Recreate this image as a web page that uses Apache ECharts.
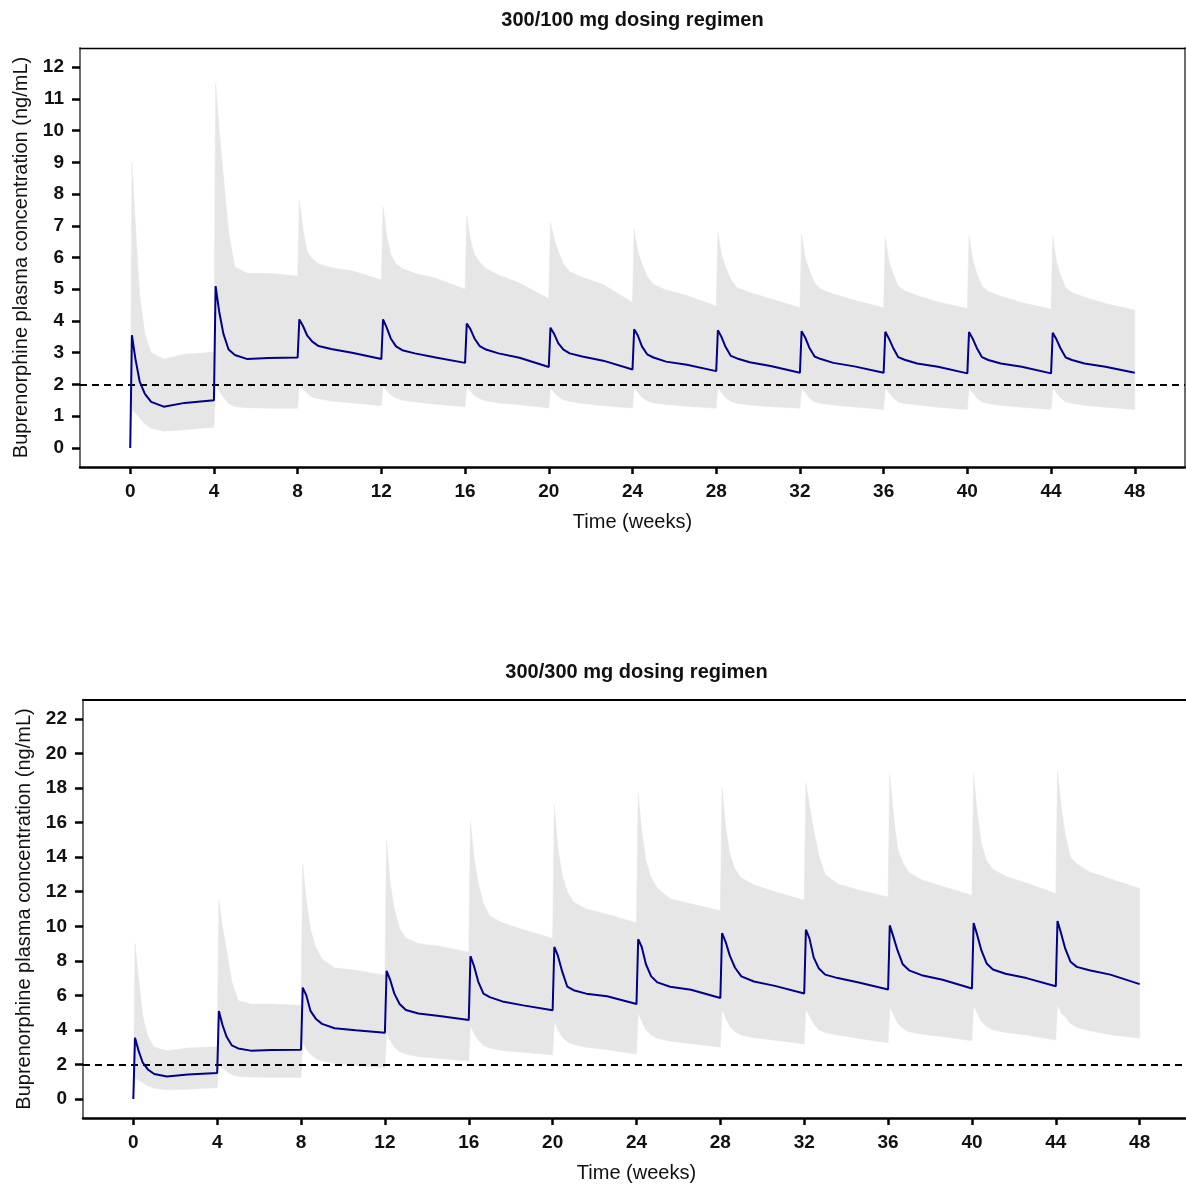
<!DOCTYPE html>
<html>
<head>
<meta charset="utf-8">
<script src="https://cdn.jsdelivr.net/npm/echarts@6/dist/echarts.min.js"></script>
<style>
  html, body { margin: 0; padding: 0; background: #fff; }
  #chart { width: 1186px; height: 1187px; }
</style>
</head>
<body>
<div id="chart"></div>
<script>
// time points (weeks): trough at each dose, then the post-dose decay
const weeks = [
  0, 0.08, 0.25, 0.45, 0.7, 1, 1.6, 2.6,
  4, 4.08, 4.25, 4.45, 4.7, 5, 5.6, 6.6,
  8, 8.08, 8.25, 8.45, 8.7, 9, 9.6, 10.6,
  12, 12.08, 12.25, 12.45, 12.7, 13, 13.6, 14.6,
  16, 16.08, 16.25, 16.45, 16.7, 17, 17.6, 18.6,
  20, 20.08, 20.25, 20.45, 20.7, 21, 21.6, 22.6,
  24, 24.08, 24.25, 24.45, 24.7, 25, 25.6, 26.6,
  28, 28.08, 28.25, 28.45, 28.7, 29, 29.6, 30.6,
  32, 32.08, 32.25, 32.45, 32.7, 33, 33.6, 34.6,
  36, 36.08, 36.25, 36.45, 36.7, 37, 37.6, 38.6,
  40, 40.08, 40.25, 40.45, 40.7, 41, 41.6, 42.6,
  44, 44.08, 44.25, 44.45, 44.7, 45, 45.6, 46.6,
  48
]

// 300/100 mg regimen
const median100 = [
  0, 3.55, 2.8, 2.1, 1.7, 1.45, 1.3, 1.42,
  1.5, 5.1, 4.3, 3.6, 3.1, 2.93, 2.8, 2.83,
  2.85, 4.05, 3.85, 3.55, 3.35, 3.21, 3.12, 3.0,
  2.8, 4.05, 3.8, 3.45, 3.2, 3.08, 2.98, 2.85,
  2.68, 3.92, 3.75, 3.45, 3.21, 3.1, 2.98, 2.84,
  2.55, 3.79, 3.6, 3.3, 3.1, 2.98, 2.88, 2.75,
  2.47, 3.74, 3.55, 3.2, 2.95, 2.85, 2.72, 2.62,
  2.42, 3.71, 3.5, 3.18, 2.9, 2.82, 2.7, 2.58,
  2.37, 3.68, 3.48, 3.16, 2.88, 2.8, 2.68, 2.57,
  2.37, 3.66, 3.45, 3.16, 2.86, 2.78, 2.66, 2.56,
  2.35, 3.65, 3.45, 3.15, 2.86, 2.77, 2.66, 2.56,
  2.35, 3.63, 3.43, 3.14, 2.85, 2.77, 2.66, 2.56,
  2.37
]
const p5_100 = [
  0, 1.2, 1.1, 0.95, 0.75, 0.62, 0.53, 0.57,
  0.65, 2.0, 1.8, 1.6, 1.4, 1.3, 1.27, 1.25,
  1.25, 1.95, 1.85, 1.72, 1.6, 1.55, 1.48, 1.42,
  1.33, 1.95, 1.82, 1.68, 1.57, 1.5, 1.45, 1.38,
  1.3, 1.95, 1.8, 1.65, 1.55, 1.48, 1.42, 1.36,
  1.26, 1.9, 1.75, 1.62, 1.52, 1.46, 1.4, 1.33,
  1.26, 1.9, 1.75, 1.6, 1.48, 1.42, 1.37, 1.31,
  1.25, 1.9, 1.75, 1.58, 1.46, 1.4, 1.35, 1.3,
  1.25, 1.9, 1.75, 1.58, 1.45, 1.4, 1.35, 1.29,
  1.21, 1.9, 1.75, 1.58, 1.45, 1.4, 1.35, 1.28,
  1.21, 1.9, 1.75, 1.58, 1.45, 1.4, 1.34, 1.28,
  1.21, 1.9, 1.75, 1.58, 1.45, 1.4, 1.34, 1.28,
  1.21
]
const p95_100 = [
  0, 9.0, 7.0, 4.8, 3.6, 3.0, 2.8, 2.95,
  3.02, 11.5, 10.0, 8.6, 6.8, 5.7, 5.5, 5.5,
  5.42, 7.8, 6.9, 6.2, 5.95, 5.8, 5.68, 5.58,
  5.3, 7.6, 6.7, 6.1, 5.8, 5.65, 5.5, 5.35,
  5.0, 7.3, 6.6, 6.1, 5.85, 5.65, 5.45, 5.2,
  4.7, 7.1, 6.6, 6.2, 5.8, 5.55, 5.38, 5.15,
  4.58, 6.9, 6.2, 5.8, 5.4, 5.15, 4.98, 4.8,
  4.47, 6.78, 6.1, 5.7, 5.3, 5.05, 4.9, 4.7,
  4.42, 6.74, 6.0, 5.6, 5.2, 5.0, 4.85, 4.65,
  4.42, 6.65, 5.9, 5.5, 5.1, 4.95, 4.8, 4.6,
  4.39, 6.7, 5.95, 5.5, 5.1, 4.93, 4.78, 4.58,
  4.37, 6.65, 5.9, 5.45, 5.05, 4.9, 4.75, 4.55,
  4.34
]

// 300/300 mg regimen
const median300 = [
  0, 3.55, 2.8, 2.1, 1.7, 1.45, 1.3, 1.42,
  1.5, 5.1, 4.3, 3.6, 3.1, 2.93, 2.8, 2.83,
  2.85, 6.45, 6.0, 5.1, 4.65, 4.35, 4.1, 3.98,
  3.83, 7.42, 6.9, 6.1, 5.5, 5.15, 4.95, 4.8,
  4.57, 8.27, 7.7, 6.8, 6.1, 5.9, 5.65, 5.42,
  5.14, 8.8, 8.3, 7.4, 6.5, 6.3, 6.1, 5.95,
  5.5, 9.25, 8.8, 7.8, 7.1, 6.75, 6.5, 6.32,
  5.85, 9.6, 9.1, 8.3, 7.6, 7.1, 6.8, 6.55,
  6.11, 9.8, 9.3, 8.2, 7.55, 7.2, 7.0, 6.75,
  6.34, 10.05, 9.4, 8.6, 7.8, 7.45, 7.17, 6.9,
  6.4, 10.19, 9.5, 8.6, 7.85, 7.5, 7.25, 7.0,
  6.53, 10.3, 9.6, 8.7, 7.95, 7.65, 7.45, 7.2,
  6.65
]
const p5_300 = [
  0, 1.2, 1.1, 0.95, 0.75, 0.62, 0.53, 0.57,
  0.65, 2.0, 1.8, 1.6, 1.4, 1.3, 1.27, 1.25,
  1.25, 3.3, 2.9, 2.6, 2.35, 2.2, 2.05, 1.95,
  1.8, 3.8, 3.4, 3.0, 2.75, 2.6, 2.45, 2.35,
  2.2, 4.2, 3.8, 3.4, 3.1, 2.95, 2.8, 2.7,
  2.55, 4.5, 4.0, 3.6, 3.3, 3.15, 3.0, 2.85,
  2.6, 5.0, 4.5, 4.0, 3.7, 3.5, 3.35, 3.2,
  3.0, 5.2, 4.7, 4.2, 3.9, 3.7, 3.55, 3.4,
  3.18, 5.2, 4.8, 4.35, 4.0, 3.85, 3.7, 3.5,
  3.26, 5.3, 4.9, 4.4, 4.1, 3.9, 3.75, 3.6,
  3.37, 5.4, 5.0, 4.5, 4.2, 4.0, 3.85, 3.7,
  3.41, 5.45, 5.0, 4.75, 4.37, 4.15, 3.95, 3.72,
  3.51
]
const p95_300 = [
  0, 9.0, 7.0, 4.8, 3.6, 3.0, 2.8, 2.95,
  3.02, 11.5, 10.0, 8.6, 6.8, 5.7, 5.5, 5.5,
  5.42, 13.6, 11.5, 9.8, 8.8, 8.1, 7.6, 7.45,
  7.17, 15.0, 12.5, 11.0, 9.9, 9.3, 9.0, 8.85,
  8.5, 16.1, 14.0, 12.5, 11.3, 10.6, 10.2, 9.8,
  9.3, 17.0, 14.5, 13.0, 12.0, 11.4, 11.0, 10.7,
  10.2, 17.7, 15.5, 13.8, 12.8, 12.2, 11.6, 11.3,
  10.9, 18.0, 15.8, 14.2, 13.3, 12.8, 12.4, 12.0,
  11.5, 18.3, 17.0, 15.6, 14.1, 13.0, 12.45, 12.1,
  11.7, 18.8, 16.5, 14.5, 13.7, 13.1, 12.7, 12.3,
  11.8, 18.8, 16.6, 14.8, 13.8, 13.3, 12.9, 12.5,
  11.9, 19.0, 17.0, 15.3, 14.0, 13.6, 13.15, 12.75,
  12.18
]

const xTicks = [0, 4, 8, 12, 16, 20, 24, 28, 32, 36, 40, 44, 48]
const yTicks100 = [0, 1, 2, 3, 4, 5, 6, 7, 8, 9, 10, 11, 12]
const yTicks300 = [0, 2, 4, 6, 8, 10, 12, 14, 16, 18, 20, 22]
const threshold = 2

const FONT = '"Liberation Sans", Arial, Helvetica, sans-serif'
const BAND = '#e6e6e6'
const LINE = '#000088'

const panels = [
  {
    title: '300/100 mg dosing regimen',
    grid: { left: 80, top: 48, width: 1105, height: 419 },
    yMin: -0.6, yMax: 12.6, yTicks: yTicks100, topWidth: 1.3,
    median: median100, low: p5_100, high: p95_100
  },
  {
    title: '300/300 mg dosing regimen',
    grid: { left: 83, top: 700, width: 1107, height: 418 },
    yMin: -1.1, yMax: 23.1, yTicks: yTicks300, topWidth: 2,
    median: median300, low: p5_300, high: p95_300
  }
]

// 5th-95th percentile band as one polygon, placed through the axes
function bandRenderer(low, high) {
  return function (params, api) {
    const upper = weeks.map((t, i) => api.coord([t, high[i]]))
    const lower = weeks.map((t, i) => api.coord([t, low[i]])).reverse()
    return {
      type: 'polygon',
      shape: { points: upper.concat(lower) },
      style: { fill: BAND, stroke: BAND, lineWidth: 0.5 }
    }
  }
}

const option = {
  animation: false,
  backgroundColor: '#fff',
  textStyle: { fontFamily: FONT },
  grid: [],
  xAxis: [],
  yAxis: [],
  series: [],
  graphic: []
}

panels.forEach((p, k) => {
  option.grid.push(Object.assign({ outerBoundsMode: 'none', containLabel: false }, p.grid))

  // bottom axis with ticks
  option.xAxis.push({
    type: 'value', gridIndex: k, min: -2.4, max: 50.4,
    axisLine: { show: true, onZero: false, lineStyle: { color: '#000', width: 2.5 } },
    axisTick: { show: true, customValues: xTicks, length: 7, lineStyle: { color: '#000', width: 2.5 } },
    axisLabel: {
      customValues: xTicks, margin: 15, color: '#111',
      fontSize: 19, fontWeight: 'bold', fontFamily: FONT
    },
    splitLine: { show: false },
    name: 'Time (weeks)', nameLocation: 'middle', nameGap: 45,
    nameTextStyle: { fontSize: 20, color: '#111', fontFamily: FONT }
  })
  // top frame line
  option.xAxis.push({
    type: 'value', gridIndex: k, min: -2.4, max: 50.4, position: 'top',
    axisLine: { show: true, onZero: false, lineStyle: { color: '#000', width: p.topWidth } },
    axisTick: { show: false }, axisLabel: { show: false }, splitLine: { show: false }
  })

  option.yAxis.push({
    type: 'value', gridIndex: k, min: p.yMin, max: p.yMax,
    axisLine: { show: true, onZero: false, lineStyle: { color: '#6e6e6e', width: 2 } },
    axisTick: { show: true, customValues: p.yTicks, length: 8, lineStyle: { color: '#000', width: 2.5 } },
    axisLabel: {
      customValues: p.yTicks, margin: 16, color: '#111',
      fontSize: 19, fontWeight: 'bold', fontFamily: FONT
    },
    splitLine: { show: false },
    name: 'Buprenorphine plasma concentration (ng/mL)',
    nameLocation: 'middle', nameGap: 46, nameRotate: 90,
    nameTextStyle: { fontSize: 20, color: '#111', fontFamily: FONT }
  })
  // right frame line
  option.yAxis.push({
    type: 'value', gridIndex: k, min: p.yMin, max: p.yMax, position: 'right',
    axisLine: { show: true, onZero: false, lineStyle: { color: '#6e6e6e', width: 2 } },
    axisTick: { show: false }, axisLabel: { show: false }, splitLine: { show: false }
  })

  const xi = k * 2
  const yi = k * 2

  option.series.push({
    type: 'custom', xAxisIndex: xi, yAxisIndex: yi, silent: true,
    data: [[weeks[0], p.low[0]]],
    renderItem: bandRenderer(p.low, p.high),
    z: 1
  })
  option.series.push({
    type: 'line', xAxisIndex: xi, yAxisIndex: yi,
    data: [], silent: true, z: 2,
    markLine: {
      silent: true, symbol: 'none', animation: false,
      label: { show: false },
      lineStyle: { color: '#000', width: 1.8, type: [7, 5] },
      data: [{ yAxis: threshold }]
    }
  })
  option.series.push({
    type: 'line', xAxisIndex: xi, yAxisIndex: yi,
    data: weeks.map((t, i) => [t, p.median[i]]),
    showSymbol: false, silent: true,
    lineStyle: { color: LINE, width: 2 }, z: 5
  })

  option.graphic.push({
    type: 'text',
    x: p.grid.left + p.grid.width / 2,
    y: p.grid.top - 28,
    style: {
      text: p.title, fill: '#111', fontSize: 20, fontWeight: 'bold',
      fontFamily: FONT, textAlign: 'center', textVerticalAlign: 'middle'
    }
  })
})

const chart = echarts.init(document.getElementById('chart'))
chart.setOption(option)
</script>
</body>
</html>
